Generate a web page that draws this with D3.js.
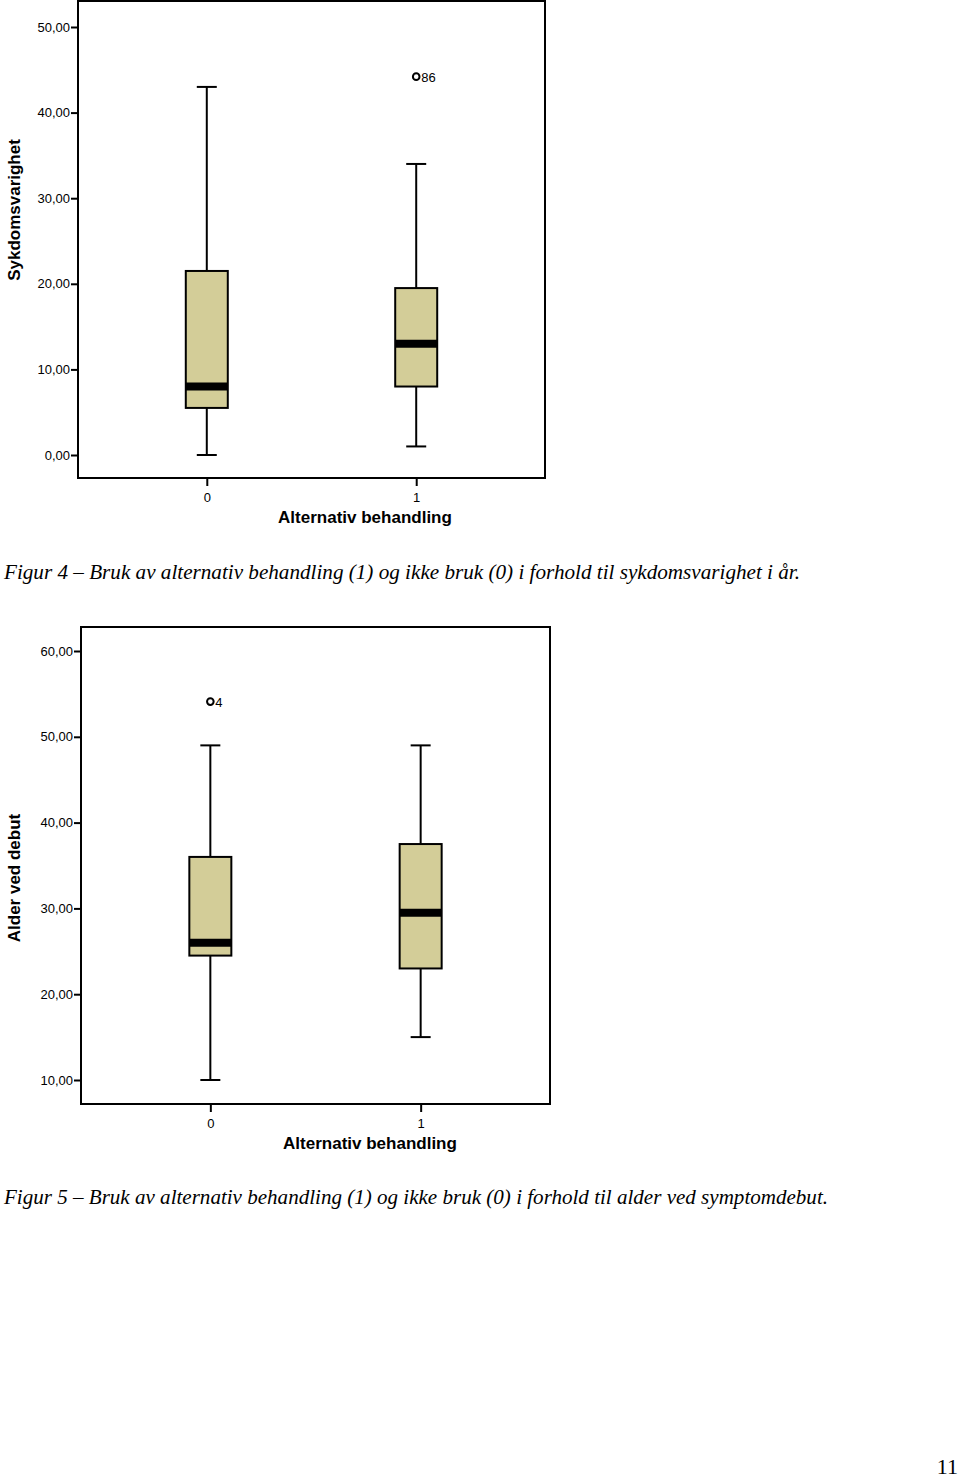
<!DOCTYPE html>
<html><head><meta charset="utf-8">
<script src="https://cdn.jsdelivr.net/npm/d3@7"></script>
<style>
body{margin:0;background:#fff;}
svg{display:block;}
</style></head>
<body>
<svg id="c" width="960" height="1478"></svg>
<script>
// ---- data ----
const groups = ["0", "1"];
// Chart 1: Sykdomsvarighet
const c1Ticks = [0, 10, 20, 30, 40, 50];
const c1Stats = [
  {g: "0", lo: 0, q1: 5.5, med: 8, q3: 21.5, hi: 43},
  {g: "1", lo: 1, q1: 8, med: 13, q3: 19.5, hi: 34}
];
const c1Outliers = [{g: "1", v: 44.2, label: "86"}];
// Chart 2: Alder ved debut
const c2Ticks = [10, 20, 30, 40, 50, 60];
const c2Stats = [
  {g: "0", lo: 10, q1: 24.5, med: 26, q3: 36, hi: 49},
  {g: "1", lo: 15, q1: 23, med: 29.5, q3: 37.5, hi: 49}
];
const c2Outliers = [{g: "0", v: 54.1, label: "4"}];

const svg = d3.select("#c");
const fmt = d => d3.format(".2f")(d).replace(".", ",");
const SANS = "Liberation Sans, Arial, sans-serif";

function boxplot(cfg) {
  const {left, right, top, bottom, yDomain, yRange, ticks, stats, outliers, yLabel, yLabelY, xTitleX} = cfg;
  const g = svg.append("g");
  const x = d3.scalePoint().domain(groups).range([left, right]).padding(0.615);
  const y = d3.scaleLinear().domain(yDomain).range(yRange);
  const bw = 42, cap = 20;

  // frame
  g.append("rect").attr("x", left).attr("y", top).attr("width", right - left).attr("height", bottom - top)
    .attr("fill", "none").attr("stroke", "#000").attr("stroke-width", 2);

  // y axis
  const ya = g.append("g").attr("transform", `translate(${left},0)`)
    .call(d3.axisLeft(y).tickValues(ticks).tickSize(7).tickPadding(1).tickFormat(fmt));
  ya.select(".domain").remove();
  ya.selectAll("line").attr("stroke-width", 2);
  ya.selectAll("text").attr("font-family", SANS).attr("font-size", 13).attr("fill", "#000");

  // x axis
  const xa = g.append("g").attr("transform", `translate(0,${bottom})`)
    .call(d3.axisBottom(x).tickSize(8).tickPadding(7));
  xa.select(".domain").remove();
  xa.selectAll("line").attr("stroke-width", 2);
  xa.selectAll("text").attr("font-family", SANS).attr("font-size", 13).attr("fill", "#000");

  // boxes
  const b = g.selectAll(".box").data(stats).join("g");
  b.append("line").attr("x1", d => x(d.g)).attr("x2", d => x(d.g))
    .attr("y1", d => y(d.hi)).attr("y2", d => y(d.q3)).attr("stroke", "#000").attr("stroke-width", 2);
  b.append("line").attr("x1", d => x(d.g)).attr("x2", d => x(d.g))
    .attr("y1", d => y(d.q1)).attr("y2", d => y(d.lo)).attr("stroke", "#000").attr("stroke-width", 2);
  b.append("line").attr("x1", d => x(d.g) - cap / 2).attr("x2", d => x(d.g) + cap / 2)
    .attr("y1", d => y(d.hi)).attr("y2", d => y(d.hi)).attr("stroke", "#000").attr("stroke-width", 2);
  b.append("line").attr("x1", d => x(d.g) - cap / 2).attr("x2", d => x(d.g) + cap / 2)
    .attr("y1", d => y(d.lo)).attr("y2", d => y(d.lo)).attr("stroke", "#000").attr("stroke-width", 2);
  b.append("rect").attr("x", d => x(d.g) - bw / 2).attr("width", bw)
    .attr("y", d => y(d.q3)).attr("height", d => y(d.q1) - y(d.q3))
    .attr("fill", "#d3cd98").attr("stroke", "#000").attr("stroke-width", 2);
  b.append("line").attr("x1", d => x(d.g) - bw / 2).attr("x2", d => x(d.g) + bw / 2)
    .attr("y1", d => y(d.med)).attr("y2", d => y(d.med)).attr("stroke", "#000").attr("stroke-width", 8);

  // outliers
  const o = g.selectAll(".out").data(outliers).join("g");
  o.append("circle").attr("cx", d => x(d.g)).attr("cy", d => y(d.v)).attr("r", 3.3)
    .attr("fill", "#fff").attr("stroke", "#000").attr("stroke-width", 2);
  o.append("text").attr("x", d => x(d.g) + 5).attr("y", d => y(d.v) + 5).text(d => d.label)
    .attr("font-family", SANS).attr("font-size", 13);

  // titles
  g.append("text").attr("x", xTitleX).attr("y", bottom + 45).attr("text-anchor", "middle")
    .attr("font-family", SANS).attr("font-weight", "bold").attr("font-size", 17)
    .text("Alternativ behandling");
  g.append("text").attr("transform", `translate(20,${yLabelY}) rotate(-90)`).attr("text-anchor", "middle")
    .attr("font-family", SANS).attr("font-weight", "bold").attr("font-size", 17)
    .text(yLabel);
}

boxplot({left: 78, right: 545, top: 1, bottom: 478, yDomain: [0, 50], yRange: [455, 27],
  ticks: c1Ticks, stats: c1Stats, outliers: c1Outliers, yLabel: "Sykdomsvarighet", yLabelY: 210, xTitleX: 365});
boxplot({left: 81, right: 550, top: 627, bottom: 1104, yDomain: [10, 60], yRange: [1080, 651],
  ticks: c2Ticks, stats: c2Stats, outliers: c2Outliers, yLabel: "Alder ved debut", yLabelY: 878, xTitleX: 370});

const cap = (t, yy, len) => svg.append("text").attr("x", 4).attr("y", yy)
  .attr("font-family", "Liberation Serif, Times New Roman, serif").attr("font-style", "italic").attr("font-size", 20)
  .attr("textLength", len).attr("lengthAdjust", "spacingAndGlyphs").text(t);
cap("Figur 4 – Bruk av alternativ behandling (1) og ikke bruk (0) i forhold til sykdomsvarighet i år.", 579, 796);
cap("Figur 5 – Bruk av alternativ behandling (1) og ikke bruk (0) i forhold til alder ved symptomdebut.", 1204, 824);
svg.append("text").attr("x", 958).attr("y", 1474).attr("text-anchor", "end")
  .attr("font-family", "Liberation Serif, Times New Roman, serif").attr("font-size", 22).text("11");
</script>
</body></html>
